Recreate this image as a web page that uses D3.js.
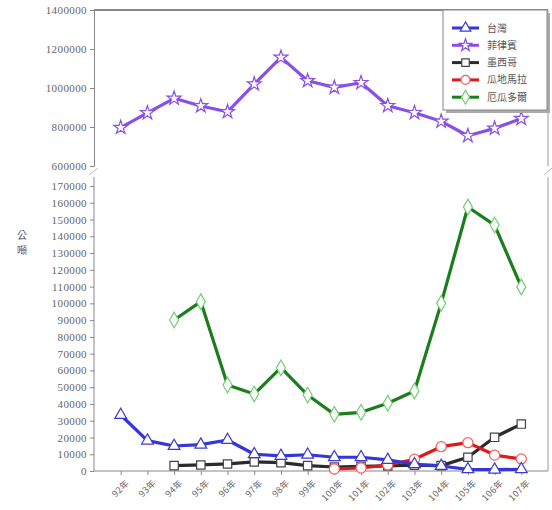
<!doctype html>
<html>
<head>
<meta charset="utf-8">
<script src="https://cdn.jsdelivr.net/npm/d3@7"></script>
<style>
  body { margin: 0; background: #fff; }
  .tick text { font-family: "Liberation Serif", serif; font-size: 11px; fill: #666; letter-spacing: 0.4px; }
  .domain, .tick line { stroke: #888; }
  .lg { font-family: "Noto Sans CJK TC", sans-serif; font-size: 10px; fill: #555; }
</style>
</head>
<body>
<script>
// years (民國)
var years = ["92年","93年","94年","95年","96年","97年","98年","99年","100年","101年","102年","103年","104年","105年","106年","107年"];
var names = ["台灣","菲律賓","墨西哥","瓜地馬拉","厄瓜多爾"];
// 公噸, null = no data
var taiwan      = [33400,18100,14900,15700,18500,10000,9000,9700,8200,8200,6600,4000,3000,1000,800,1000];
var philippines = [797000,872000,947000,908000,878000,1020000,1157000,1037000,1003000,1027000,909000,873000,829000,755000,793000,843000];
var mexico      = [null,null,3200,3600,4200,5400,5000,3200,2400,2800,3000,3500,3200,8200,20100,28000];
var guatemala   = [null,null,null,null,null,null,null,null,1200,1800,3600,7000,14500,16900,9500,7200];
var ecuador     = [null,null,90100,101000,51300,45900,61600,45300,33800,35000,40400,47700,100000,157500,146700,109800];
var topTicks = [600000,800000,1000000,1200000,1400000];

var W = 552, H = 510;
var left = 94, right = 548;

var svg = d3.select("body").append("svg").attr("width", W).attr("height", H);

var x = d3.scalePoint().domain(years).range([left, right]).padding(1);
var yTop = d3.scaleLinear().domain([600000, 1400000]).range([166, 10]);
var yBot = d3.scaleLinear().domain([0, 170000]).range([471, 186]);

// top panel axis
svg.append("g").attr("transform", "translate(" + left + ",0)")
  .call(d3.axisLeft(yTop).tickValues(topTicks).tickSize(4).tickFormat(d3.format("d")));
svg.append("line").attr("x1", left).attr("x2", right).attr("y1", 10).attr("y2", 10).attr("stroke", "#888").attr("stroke-width", 2);
svg.append("line").attr("x1", right).attr("x2", right).attr("y1", 10).attr("y2", 166).attr("stroke", "#999");

// bottom panel axis
var ya = svg.append("g").attr("transform", "translate(" + left + ",0)")
  .call(d3.axisLeft(yBot).ticks(17).tickSize(4).tickFormat(d3.format("d")));
ya.select(".domain").remove();
svg.append("line").attr("x1", left).attr("x2", left).attr("y1", 177).attr("y2", 471).attr("stroke", "#888");
var xa = svg.append("g").attr("transform", "translate(0,471)")
  .call(d3.axisBottom(x).tickSize(4));
xa.select(".domain").remove();
svg.append("line").attr("x1", left).attr("x2", right).attr("y1", 471).attr("y2", 471).attr("stroke", "#888");
svg.append("line").attr("x1", right).attr("x2", right).attr("y1", 177).attr("y2", 471).attr("stroke", "#999");
xa.selectAll("text")
  .attr("text-anchor", "end")
  .attr("dx", "-0.3em").attr("dy", "0.9em")
  .attr("transform", "rotate(-45)")
  .style("font-family", "'Noto Sans CJK TC', serif").style("font-size", "9px");

// break marks
svg.append("line").attr("x1", left - 5).attr("y1", 175).attr("x2", left + 4).attr("y2", 168).attr("stroke", "#bbb");
svg.append("line").attr("x1", right - 4).attr("y1", 175).attr("x2", right + 4).attr("y2", 168).attr("stroke", "#bbb");

// y title, stacked vertically
["公","噸"].forEach(function (c, i) {
  svg.append("text").attr("x", 22).attr("y", 239 + i * 15)
    .attr("font-family", "'Noto Sans CJK TC', sans-serif").attr("font-size", 10).attr("fill", "#555")
    .attr("text-anchor", "middle").text(c);
});

var series = [
  { name: names[0], vals: taiwan, y: yBot, line: "#3535d8", mk: "#3a3ad0", sym: d3.symbolTriangle, size: 60 },
  { name: names[1], vals: philippines, y: yTop, line: "#8a4fe6", mk: "#8a4fe6", sym: d3.symbolStar, size: 60 },
  { name: names[2], vals: mexico, y: yBot, line: "#2b2b2b", mk: "#444", sym: d3.symbolSquare, size: 70 },
  { name: names[3], vals: guatemala, y: yBot, line: "#e01818", mk: "#f06060", sym: d3.symbolCircle, size: 80 },
  { name: names[4], vals: ecuador, y: yBot, line: "#1c7d1c", mk: "#6fcf6f", sym: d3.symbolDiamond, size: 70 }
];
// draw order: green, black, red, blue, purple
[4, 2, 3, 0, 1].forEach(function (k) {
  var s = series[k];
  var pts = years.map(function (yr, i) { return { x: yr, v: s.vals[i] }; }).filter(function (d) { return d.v != null; });
  var ln = d3.line().x(function (d) { return x(d.x); }).y(function (d) { return s.y(d.v); });
  svg.append("path").datum(pts).attr("d", ln).attr("fill", "none")
    .attr("stroke", s.line).attr("stroke-width", 3.2).attr("stroke-linejoin", "round");
  svg.append("g").selectAll("path").data(pts).join("path")
    .attr("d", d3.symbol().type(s.sym).size(s.size))
    .attr("transform", function (d) { return "translate(" + x(d.x) + "," + s.y(d.v) + ")"; })
    .attr("fill", "#fff").attr("stroke", s.mk).attr("stroke-width", 1.2);
});

// legend
var lg = svg.append("g");
lg.append("rect").attr("x", 446).attr("y", 13).attr("width", 104).attr("height", 100).attr("fill", "#aaa");
lg.append("rect").attr("x", 443).attr("y", 10).attr("width", 104).attr("height", 100)
  .attr("fill", "#fff").attr("stroke", "#888");
series.forEach(function (s, i) {
  var yy = 28 + i * 17.3;
  lg.append("line").attr("x1", 452).attr("x2", 479).attr("y1", yy).attr("y2", yy)
    .attr("stroke", s.line).attr("stroke-width", 3);
  lg.append("path").attr("d", d3.symbol().type(s.sym).size(s.size * 0.8))
    .attr("transform", "translate(465.5," + yy + ")")
    .attr("fill", "#fff").attr("stroke", s.mk).attr("stroke-width", 1.2);
  lg.append("text").attr("class", "lg").attr("x", 487).attr("y", yy + 3.5).text(s.name);
});
</script>
</body>
</html>
